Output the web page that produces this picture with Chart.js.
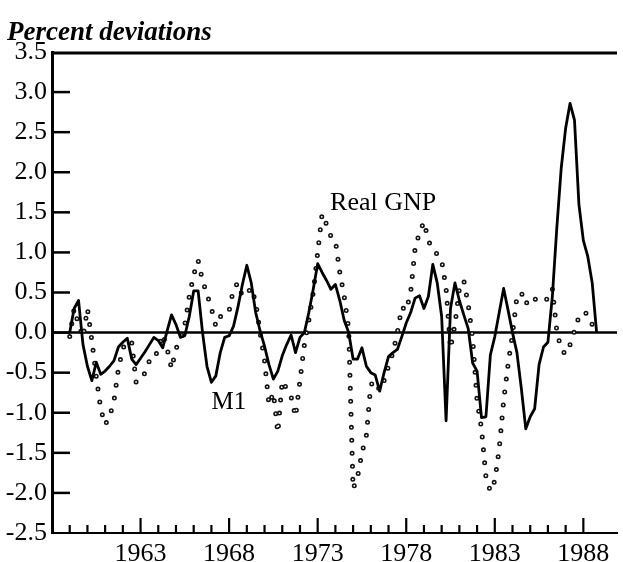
<!DOCTYPE html>
<html>
<head>
<meta charset="utf-8">
<title>Percent deviations</title>
<script src="https://cdn.jsdelivr.net/npm/chart.js@4.4.1/dist/chart.umd.min.js"></script>
<style>
  html, body { margin: 0; padding: 0; background: #fff; }
  canvas { display: block; }
</style>
</head>
<body>
<canvas id="myChart" width="623" height="562"></canvas>
<script>
// quarterly data, 1959Q1 - 1988Q4
const years = [1959, 1960, 1961, 1962, 1963, 1964, 1965, 1966, 1967, 1968,
  1969, 1970, 1971, 1972, 1973, 1974, 1975, 1976, 1977, 1978,
  1979, 1980, 1981, 1982, 1983, 1984, 1985, 1986, 1987, 1988];
const labelYears = [1963, 1968, 1973, 1978, 1983, 1988];

const m1 = [
  0.00, 0.30, 0.40, -0.15, -0.42, -0.60, -0.37, -0.52, -0.48, -0.42,
  -0.35, -0.18, -0.12, -0.07, -0.33, -0.40, -0.32, -0.24, -0.15, -0.06,
  -0.10, -0.19, 0.02, 0.22, 0.10, -0.06, -0.04, 0.20, 0.52, 0.52,
  0.00, -0.42, -0.62, -0.54, -0.25, -0.06, -0.04, 0.08, 0.32, 0.60,
  0.84, 0.62, 0.25, 0.02, -0.17, -0.40, -0.58, -0.48, -0.29, -0.15,
  -0.03, -0.25, -0.06, 0.00, 0.25, 0.54, 0.86, 0.75, 0.65, 0.54,
  0.60, 0.40, 0.15, 0.00, -0.33, -0.33, -0.19, -0.42, -0.50, -0.53,
  -0.73, -0.50, -0.30, -0.25, -0.21, -0.05, 0.12, 0.25, 0.43, 0.46,
  0.30, 0.45, 0.85, 0.62, 0.20, -1.10, 0.30, 0.62, 0.40, 0.22,
  0.05, -0.38, -0.48, -1.06, -1.05, -0.28, -0.05, 0.25, 0.55, 0.28,
  0.00, -0.25, -0.70, -1.20, -1.05, -0.95, -0.40, -0.18, -0.12, 0.45,
  1.30, 2.05, 2.55, 2.86, 2.65, 1.60, 1.15, 0.95, 0.62, 0.00
];

const realGnp = [
  -0.05, 0.30, 0.10, -0.06, 0.30, -0.10, -0.55, -0.95, -1.15, -1.05,
  -0.85, -0.45, -0.20, -0.10, -0.12, -0.62, -0.60, -0.50, -0.35, -0.35,
  -0.20, -0.02, -0.20, -0.45, -0.20, -0.10, 0.10, 0.45, 0.72, 0.90,
  0.65, 0.48, 0.30, 0.08, 0.20, 0.20, 0.27, 0.55, 0.62, 0.45,
  0.48, 0.56, 0.38, 0.00, -0.35, -0.90, -0.75, -1.25, -0.60, -0.70,
  -0.80, -1.05, -0.60, -0.15, 0.15, 0.50, 1.00, 1.48, 1.35, 1.20,
  1.15, 0.75, 0.45, 0.05, -1.95, -1.80, -1.50, -1.28, -0.65, -0.60,
  -0.72, -0.60, -0.42, -0.25, 0.00, 0.32, 0.27, 0.50, 1.05, 1.25,
  1.38, 1.15, 1.02, 0.98, 0.90, 0.55, -0.20, 0.10, 0.55, 0.65,
  0.35, -0.07, -0.85, -1.20, -1.80, -1.98, -1.85, -1.45, -0.85, -0.40,
  -0.02, 0.45, 0.50, 0.35, 0.45, 0.42, 0.40, 0.38, 0.43, 0.55,
  0.02, -0.21, -0.27, -0.15, 0.02, 0.20, 0.26, 0.23, 0.10, 0.00
];

const serif = '"Liberation Serif", "Times New Roman", serif';

function toPoints(vals) {
  return vals.map((v, i) => ({ x: years[Math.floor(i / 4)] + (i % 4) / 4, y: v }));
}

// frame, zero line, inside ticks and the text labels
const decorations = {
  id: 'decorations',
  beforeDatasetsDraw(chart) {
    const { ctx, chartArea: a, scales: { x, y } } = chart;
    ctx.save();
    ctx.strokeStyle = '#000';
    ctx.lineCap = 'butt';

    ctx.lineWidth = 3;
    ctx.beginPath();
    ctx.moveTo(a.left, a.top + 1);
    ctx.lineTo(a.right, a.top + 1);
    ctx.stroke();

    ctx.lineWidth = 2.5;
    const y0 = y.getPixelForValue(0);
    ctx.beginPath();
    ctx.moveTo(a.left, y0);
    ctx.lineTo(a.right, y0);
    ctx.stroke();

    y.ticks.forEach(t => {
      if (t.value <= y.min || t.value >= y.max) return;
      const py = y.getPixelForValue(t.value);
      ctx.beginPath();
      ctx.moveTo(a.left, py);
      ctx.lineTo(a.left + 18, py);
      ctx.stroke();
    });

    ctx.lineWidth = 2.2;
    x.ticks.forEach(t => {
      const v = t.value;
      if (v < years[0] || v > years[years.length - 1] + 1 || v !== Math.round(v)) return;
      const len = labelYears.includes(v) ? 15 : 8;
      const px = x.getPixelForValue(v);
      ctx.beginPath();
      ctx.moveTo(px, a.bottom);
      ctx.lineTo(px, a.bottom - len);
      ctx.stroke();
    });
    ctx.restore();
  },
  afterDraw(chart) {
    const { ctx, scales: { x, y } } = chart;
    ctx.save();
    ctx.fillStyle = '#000';
    ctx.textBaseline = 'alphabetic';
    ctx.textAlign = 'left';
    ctx.font = 'italic bold 27px ' + serif;
    ctx.fillText('Percent deviations', 7, 40);

    ctx.font = '26px ' + serif;
    ctx.fillText('Real GNP', x.getPixelForValue(1973.7), y.getPixelForValue(1.53));
    ctx.font = '25px ' + serif;
    ctx.fillText('M1', x.getPixelForValue(1967.0), y.getPixelForValue(-0.95));
    ctx.restore();
  }
};

const ctx = document.getElementById('myChart').getContext('2d');

new Chart(ctx, {
  type: 'line',
  data: {
    datasets: [
      {
        label: 'M1',
        data: toPoints(m1),
        borderColor: '#000',
        borderWidth: 2.8,
        borderJoinStyle: 'round',
        pointRadius: 0,
        tension: 0,
        order: 0
      },
      {
        // white centre of the ring dots
        label: 'Real GNP',
        data: toPoints(realGnp),
        borderColor: '#fff',
        borderWidth: 1.8,
        borderDash: [0, 13],
        borderCapStyle: 'round',
        pointRadius: 0,
        tension: 0,
        order: 1
      },
      {
        label: 'Real GNP ring',
        data: toPoints(realGnp),
        borderColor: '#111',
        borderWidth: 5,
        borderDash: [0, 13],
        borderCapStyle: 'round',
        pointRadius: 0,
        tension: 0,
        order: 2
      }
    ]
  },
  options: {
    responsive: false,
    animation: false,
    devicePixelRatio: 1,
    layout: { padding: { top: 52, left: 0, right: 0, bottom: 0 } },
    plugins: {
      legend: { display: false },
      tooltip: { enabled: false },
      title: { display: false }
    },
    scales: {
      x: {
        type: 'linear',
        min: 1958,
        max: 1989.9,
        grid: { display: false, drawTicks: false },
        border: { display: true, color: '#000', width: 2 },
        ticks: {
          stepSize: 1,
          autoSkip: false,
          maxRotation: 0,
          minRotation: 0,
          padding: 6,
          color: '#000',
          font: { family: serif, size: 26 },
          callback: v => labelYears.includes(v) ? String(v) : ''
        },
        afterFit: s => { s.height = 29; }
      },
      y: {
        min: -2.5,
        max: 3.5,
        grid: { display: false, drawTicks: false },
        border: { display: true, color: '#000', width: 3 },
        ticks: {
          stepSize: 0.5,
          padding: 5,
          color: '#000',
          font: { family: serif, size: 26 },
          callback: v => v.toFixed(1)
        },
        afterFit: s => { s.width = 52; }
      }
    }
  },
  plugins: [decorations]
});
</script>
</body>
</html>
